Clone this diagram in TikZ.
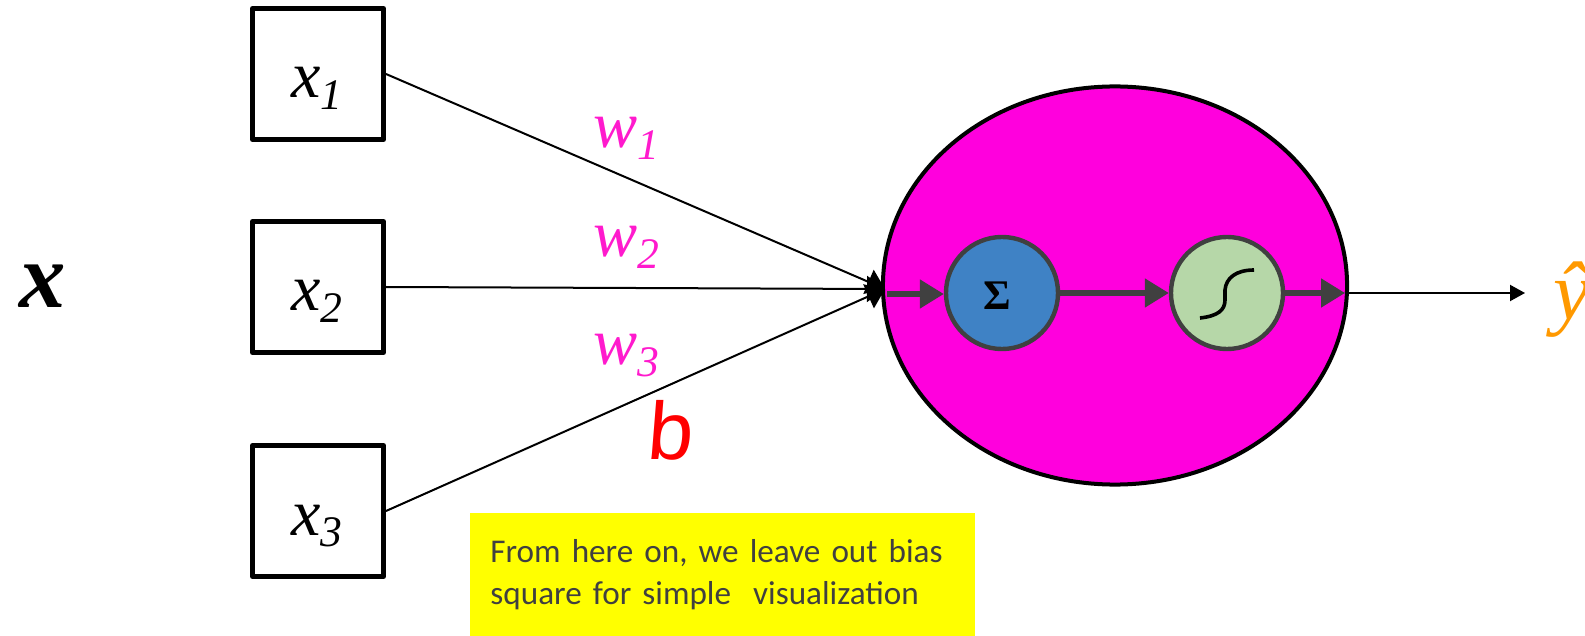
\documentclass[tikz,border=0pt]{standalone}
\usepackage{fontspec}
\setmainfont{Liberation Serif}
\newfontfamily\handfont[FakeSlant=0.08]{Liberation Sans}
\newfontfamily\notefont{Carlito}
\usepackage{xcolor}
\usetikzlibrary{arrows.meta,positioning,shapes.geometric}
\definecolor{cellpink}{HTML}{FF00DD}
\definecolor{weightpink}{HTML}{FF1ACD}
\definecolor{sumblue}{HTML}{3F82C5}
\definecolor{actgreen}{HTML}{B6D7A8}
\definecolor{darkgrey}{HTML}{404040}
\definecolor{outorange}{HTML}{FF9900}
\definecolor{noteyellow}{HTML}{FFFF00}
\newcommand{\varlabel}[2]{\itshape #1\raisebox{-8.5pt}{\fontsize{31}{31}\selectfont #2}}

\begin{document}
\begin{tikzpicture}[x=0.025cm,y=-0.025cm,
    inputbox/.style={draw,line width=0.125cm,minimum size=3.275cm,inner sep=0,line join=round},
    unitcircle/.style={draw=darkgrey,circle,line width=0.11cm,minimum size=2.8cm,inner sep=0},
    varname/.style={anchor=base west,inner sep=0,font=\fontsize{47}{47}\selectfont},
    weightname/.style={varname,text=weightpink},
    inedge/.style={line width=0.05cm,-{Triangle[length=0.45cm,width=0.65cm]}},
    flowedge/.style={draw=darkgrey,line width=0.125cm,-{Triangle[length=0.6cm,width=0.7cm]}}]
  \useasboundingbox (0,0) rectangle (1585,636);

  % cell with its two inner units
  \node[ellipse,draw,fill=cellpink,line width=0.1cm,minimum width=11.6cm,minimum height=9.95cm,
        inner sep=0,outer sep=0] (cell) at (1115,285.5) {};
  \node[unitcircle,fill=sumblue] (sum) at (1002,293) {};
  \node[inner sep=0,font=\bfseries\fontsize{30}{30}\selectfont] (sumlabel) at (997,296) {Σ};
  \node[unitcircle,fill=actgreen] (act) at (1227,293) {};
  \draw[line width=0.09cm] (1200,318) .. controls (1218,316) and (1225,310) .. (1225,300)
    -- (1225,290) .. controls (1226,278) and (1236,270) .. (1254,270);

  % inputs
  \node[inputbox] (xa) at (318,74) {};
  \node[inputbox] (xb) at (318,287) {};
  \node[inputbox] (xc) at (318,511) {};
  \node[varname] (xalabel) at (291,98) {\varlabel{x}{1}};
  \node[varname] (xblabel) at (291,311) {\varlabel{x}{2}};
  \node[varname] (xclabel) at (291,535) {\varlabel{x}{3}};
  \node[inner sep=0,font=\bfseries\itshape\fontsize{66}{66}\selectfont] (xvec) at (43,286) {x};

  \coordinate (hub) at (885,289);
  \draw[inedge] (xa.east) -- (hub);
  \draw[inedge] (xb.east) -- (hub);
  \draw[inedge] (xc.east) -- (hub);

  \node[weightname] (wa) at (593,148) {\varlabel{w}{1}};
  \node[weightname] (wb) at (593,257) {\varlabel{w}{2}};
  \node[weightname] (wc) at (593,365) {\varlabel{w}{3}};
  \node[anchor=base west,inner sep=0,text=red,font=\handfont\fontsize{58}{58}\selectfont] (bias) at (646,459) {b};

  % flow through the cell
  \coordinate (cellin) at (887,294);
  \coordinate (cellout) at (1345,293);
  \draw[flowedge] (cellin) -- (sum.west |- cellin);
  \draw[flowedge] (sum.east) -- (act.west);
  \draw[flowedge] (act.east) -- (cellout);

  \node[anchor=base west,inner sep=0,text=outorange,font=\itshape\fontsize{59}{59}\selectfont] (yhat) at (1553,320) {ŷ};
  \draw[line width=0.05cm,-{Triangle[length=0.375cm,width=0.4cm]},shorten >=19.9pt] (cellout) -- (cellout -| yhat.west);

  \node[fill=noteyellow,text=darkgrey,text width=11.6cm,minimum height=3.1cm,align=left,inner ysep=0,inner xsep=0.5cm,
        font=\notefont\fontsize{23.6}{30}\selectfont] (note) at (722.5,575)
    {From here on, we leave out bias\\square for simple\ \ visualization};
\end{tikzpicture}
\end{document}
